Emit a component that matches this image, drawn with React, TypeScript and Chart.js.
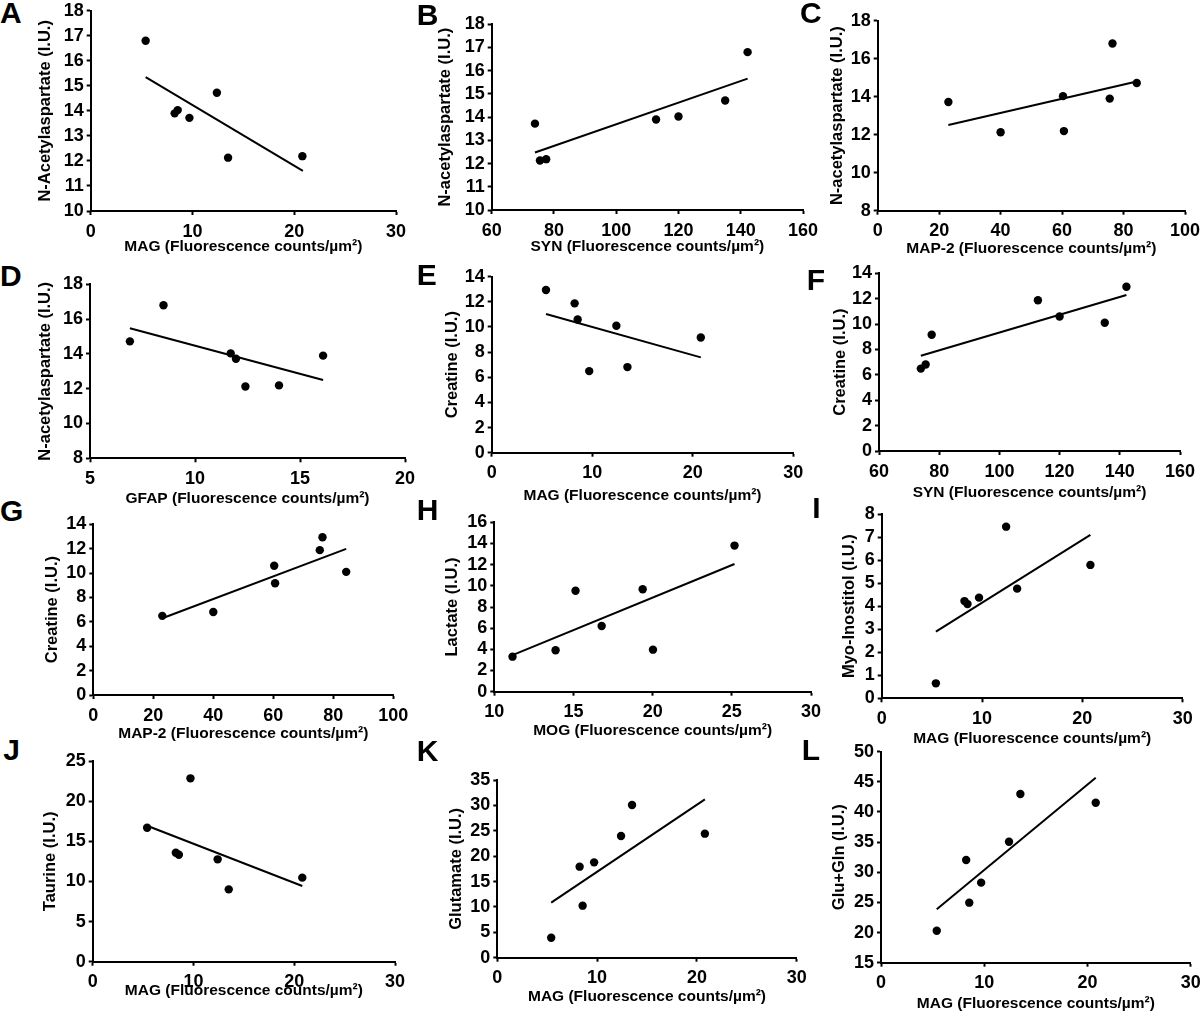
import React, { useEffect, useRef } from "react";
import { Chart, registerables } from "chart.js";

Chart.register(...registerables);

const FONT = "'Liberation Sans', Arial, Helvetica, sans-serif";

// ---- Data: 7 subjects (same order in every array) ----
const mag = [5.4, 8.25, 8.55, 9.7, 12.4, 13.5, 20.8];
const syn = [142.2, 112.8, 120.0, 73.9, 135.0, 75.5, 77.5];
const map2 = [76.4, 75.5, 60.3, 23.0, 84.3, 40.0, 60.6];
const gfap = [8.5, 16.1, 11.7, 11.95, 6.9, 12.4, 14.0];
const naa = [16.8, 13.9, 14.03, 13.72, 14.72, 12.13, 12.19];
const creatine = [12.94, 11.88, 10.6, 6.49, 10.1, 6.81, 9.16];
const myoInositol = [0.65, 4.22, 4.09, 4.37, 7.45, 4.76, 5.79];
const taurine = [16.69, 13.58, 13.33, 22.84, 12.75, 9.01, 10.47];
const glutamate = [3.94, 17.93, 10.25, 18.78, 23.97, 30.08, 24.43];
const gluGln = [20.31, 32.03, 24.96, 28.28, 35.07, 42.98, 41.54];
// panel H (MOG vs lactate)
const mog = [11.15, 13.87, 15.13, 16.78, 19.37, 20.02, 25.17];
const lactate = [3.31, 3.91, 9.54, 6.2, 9.67, 3.97, 13.8];

// ---- Trend lines (end points) ----
const trendA = [[5.4, 15.35], [20.85, 11.6]];
const trendB = [[73.9, 12.48], [142.2, 15.66]];
const trendC = [[23.0, 12.51], [84.3, 14.8]];
const trendD = [[6.9, 15.47], [16.1, 12.5]];
const trendE = [[5.4, 11.03], [20.8, 7.58]];
const trendF = [[73.9, 7.51], [142.2, 12.29]];
const trendG = [[23.0, 6.29], [84.3, 11.98]];
const trendH = [[11.15, 3.46], [25.17, 12.06]];
const trendI = [[5.4, 2.89], [20.8, 7.09]];
const trendJ = [[5.4, 16.94], [20.8, 9.43]];
const trendK = [[5.4, 10.84], [20.8, 31.19]];
const trendL = [[5.4, 23.85], [20.8, 45.69]];

// ---- Axis ranges [min, max, step] ----
const ticksMag = [0, 30, 10];
const ticksSyn = [60, 160, 20];
const ticksMap2 = [0, 100, 20];
const ticksGfap = [5, 20, 5];
const ticksMog = [10, 30, 5];
const ticksNaa1 = [10, 18, 1];
const ticksNaa2 = [8, 18, 2];
const ticksCr = [0, 14, 2];
const ticksLac = [0, 16, 2];
const ticksMi = [0, 8, 1];
const ticksTau = [0, 25, 5];
const ticksGlu = [0, 35, 5];
const ticksGlx = [15, 50, 5];

const panelLetters = ["A", "B", "C", "D", "E", "F", "G", "H", "I", "J", "K", "L"];

const xLabelMag = "MAG (Fluorescence counts/µm²)";
const xLabelSyn = "SYN (Fluorescence counts/µm²)";
const xLabelMap2 = "MAP-2 (Fluorescence counts/µm²)";
const xLabelGfap = "GFAP (Fluorescence counts/µm²)";
const xLabelMog = "MOG (Fluorescence counts/µm²)";

const panels = [
  { xs: mag, ys: naa, trend: trendA, xt: ticksMag, yt: ticksNaa1, xl: xLabelMag, yl: "N-Acetylaspartate (I.U.)" },
  { xs: syn, ys: naa, trend: trendB, xt: ticksSyn, yt: ticksNaa1, xl: xLabelSyn, yl: "N-acetylaspartate (I.U.)" },
  { xs: map2, ys: naa, trend: trendC, xt: ticksMap2, yt: ticksNaa2, xl: xLabelMap2, yl: "N-acetylaspartate (I.U.)" },
  { xs: gfap, ys: naa, trend: trendD, xt: ticksGfap, yt: ticksNaa2, xl: xLabelGfap, yl: "N-acetylaspartate (I.U.)" },
  { xs: mag, ys: creatine, trend: trendE, xt: ticksMag, yt: ticksCr, xl: xLabelMag, yl: "Creatine (I.U.)" },
  { xs: syn, ys: creatine, trend: trendF, xt: ticksSyn, yt: ticksCr, xl: xLabelSyn, yl: "Creatine (I.U.)" },
  { xs: map2, ys: creatine, trend: trendG, xt: ticksMap2, yt: ticksCr, xl: xLabelMap2, yl: "Creatine (I.U.)" },
  { xs: mog, ys: lactate, trend: trendH, xt: ticksMog, yt: ticksLac, xl: xLabelMog, yl: "Lactate (I.U.)" },
  { xs: mag, ys: myoInositol, trend: trendI, xt: ticksMag, yt: ticksMi, xl: xLabelMag, yl: "Myo-Inostitol (I.U.)" },
  { xs: mag, ys: taurine, trend: trendJ, xt: ticksMag, yt: ticksTau, xl: xLabelMag, yl: "Taurine (I.U.)" },
  { xs: mag, ys: glutamate, trend: trendK, xt: ticksMag, yt: ticksGlu, xl: xLabelMag, yl: "Glutamate (I.U.)" },
  { xs: mag, ys: gluGln, trend: trendL, xt: ticksMag, yt: ticksGlx, xl: xLabelMag, yl: "Glu+Gln (I.U.)" },
];

// ---- Layout (page pixels): letterX, letterBaseline, plotLeft, plotTop, plotRight, plotBottom, yTitleX, xTitleY ----
const layout = [
  [0, 23.3, 90.7, 10.7, 396, 211, 46.7, 246.7],
  [416.7, 25, 491.7, 24.3, 803, 210, 446.7, 246.7],
  [800, 23.3, 877.7, 20.7, 1185, 210.7, 838.3, 248.3],
  [0, 286.7, 90, 284.3, 405, 458.3, 46.7, 498.3],
  [416.7, 285, 491.7, 276.7, 793.3, 452.7, 453.3, 495],
  [806.7, 290, 879, 273.3, 1180, 451, 841, 492.7],
  [0, 521.7, 93.3, 524.3, 393.3, 695, 53.3, 733.3],
  [416.7, 520, 494.3, 522.3, 811, 691.7, 453.3, 730],
  [812.3, 518.3, 881.7, 514, 1182.7, 698.3, 850, 738],
  [3.3, 760, 92.7, 761, 395, 961.7, 51.7, 990.7],
  [416.7, 761.7, 497.3, 780, 796.7, 957.7, 457.3, 996.7],
  [801.7, 760.7, 881, 751.7, 1190.7, 962.7, 840, 1003.3],
];

const TICK_FONT = 18;
const YTITLE_FONT = 16.5;
const XTITLE_FONT = 15.5;

function Panel({ idx }: { idx: number }) {
  const ref = useRef<HTMLCanvasElement>(null);
  const p = panels[idx];
  const [, , left, top, right, bottom, yTitleX, xTitleY] = layout[idx];
  const cl = Math.floor(yTitleX - (YTITLE_FONT * 1.2) / 2);
  const ct = Math.floor(top - 14);
  const cr = Math.ceil(right + 18);
  const cb = Math.ceil(xTitleY + (XTITLE_FONT * 1.2) / 2);
  const W = cr - cl;
  const H = cb - ct;
  const yW = left - cl;
  const xH = cb - bottom;
  const padTop = top - ct;
  const padRight = cr - right;

  useEffect(() => {
    const canvas = ref.current!;
    const chart = new Chart(canvas, {
      type: "scatter",
      data: {
        datasets: [
          {
            data: p.xs.map((x, i) => ({ x, y: p.ys[i] })),
            pointRadius: 4.2,
            pointBackgroundColor: "#000",
            pointBorderColor: "#000",
            pointBorderWidth: 0,
            showLine: false,
          },
          {
            data: p.trend.map(([x, y]) => ({ x, y })),
            showLine: true,
            borderColor: "#000",
            borderWidth: 2,
            pointRadius: 0,
            fill: false,
          },
        ],
      },
      options: {
        responsive: false,
        animation: false,
        devicePixelRatio: 1,
        layout: { padding: { left: 0, top: padTop, right: padRight, bottom: 0 } },
        plugins: { legend: { display: false }, tooltip: { enabled: false } },
        scales: {
          x: {
            type: "linear",
            position: "bottom",
            min: p.xt[0],
            max: p.xt[1],
            ticks: {
              stepSize: p.xt[2],
              font: { family: FONT, size: TICK_FONT, weight: "bold" },
              color: "#000",
              padding: 6,
              maxRotation: 0,
              autoSkip: false,
            },
            grid: {
              display: true,
              drawOnChartArea: false,
              drawTicks: true,
              tickLength: 4,
              tickWidth: 2,
              tickColor: "#000",
              color: "#000",
            },
            border: { display: true, color: "#000", width: 2 },
            title: {
              display: true,
              text: p.xl,
              font: { family: FONT, size: XTITLE_FONT, weight: "bold" },
              color: "#000",
              padding: 0,
            },
            afterFit: (s: any) => {
              s.height = xH;
              s.paddingLeft = 0;
              s.paddingRight = 0;
            },
          },
          y: {
            type: "linear",
            position: "left",
            min: p.yt[0],
            max: p.yt[1],
            ticks: {
              stepSize: p.yt[2],
              font: { family: FONT, size: TICK_FONT, weight: "bold" },
              color: "#000",
              padding: 3,
              autoSkip: false,
            },
            grid: {
              display: true,
              drawOnChartArea: false,
              drawTicks: true,
              tickLength: 4,
              tickWidth: 2,
              tickColor: "#000",
              color: "#000",
            },
            border: { display: true, color: "#000", width: 2 },
            title: {
              display: true,
              text: p.yl,
              font: { family: FONT, size: YTITLE_FONT, weight: "bold" },
              color: "#000",
              padding: 0,
            },
            afterFit: (s: any) => {
              s.width = yW;
              s.paddingTop = 0;
              s.paddingBottom = 0;
            },
          },
        },
      },
    } as any);
    return () => chart.destroy();
  }, []);

  return (
    <canvas
      ref={ref}
      width={W}
      height={H}
      style={{ position: "absolute", left: cl, top: ct, width: W, height: H }}
    />
  );
}

export default function App() {
  return (
    <div
      style={{
        position: "absolute",
        left: 0,
        top: 0,
        width: 1200,
        height: 1012,
        overflow: "hidden",
        background: "#fff",
      }}
    >
      {panels.map((_, i) => (
        <Panel key={i} idx={i} />
      ))}
      {panelLetters.map((letter, i) => {
        const [lx, baseline] = layout[i];
        return (
          <div
            key={letter}
            style={{
              position: "absolute",
              left: lx,
              top: baseline - 25.4,
              fontFamily: FONT,
              fontWeight: "bold",
              fontSize: 30,
              lineHeight: "30px",
              color: "#000",
            }}
          >
            {letter}
          </div>
        );
      })}
    </div>
  );
}
